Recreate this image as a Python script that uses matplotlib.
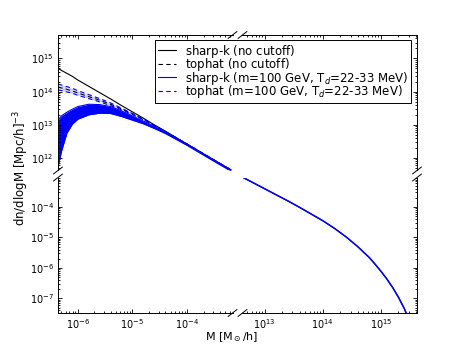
import numpy as np
import matplotlib
matplotlib.use("Agg")
from matplotlib import pyplot as plt

# low-mass window (log10 M, log10 dn/dlogM)
logm_lo = [-6.36, -6.3, -6.2, -6.1, -6.0, -5.8, -5.6, -5.4, -5.2, -5.0, -4.8, -4.6, -4.4, -4.0, -3.6, -3.1]
sharpk_nocut = [14.70, 14.64, 14.55, 14.46, 14.35, 14.16, 13.97, 13.78, 13.58, 13.39, 13.20, 13.00, 12.81, 12.42, 12.03, 11.55]
tophat_nocut = [14.14, 14.11, 14.07, 14.02, 13.96, 13.85, 13.74, 13.62, 13.48, 13.33, 13.16, 12.98, 12.80, 12.42, 12.03, 11.55]
tophat_cut_hi = [14.23, 14.20, 14.15, 14.10, 14.03, 13.91, 13.79, 13.66, 13.50, 13.34, 13.17, 12.98, 12.80, 12.42, 12.03, 11.55]
tophat_cut_lo = [14.05, 14.03, 13.99, 13.95, 13.89, 13.79, 13.69, 13.58, 13.45, 13.31, 13.15, 12.97, 12.80, 12.42, 12.03, 11.55]
sharpk_cut_hi = [13.15, 13.27, 13.38, 13.47, 13.55, 13.62, 13.61, 13.55, 13.42, 13.27, 13.11, 12.95, 12.78, 12.41, 12.02, 11.54]
sharpk_cut_lo = [11.75, 12.20, 12.75, 13.02, 13.17, 13.30, 13.35, 13.34, 13.25, 13.14, 13.03, 12.89, 12.74, 12.38, 11.99, 11.51]

# high-mass window
logm_hi = [12.6, 12.8, 13.0, 13.2, 13.4, 13.6, 13.8, 14.0, 14.2, 14.4, 14.6, 14.8, 14.9, 15.0, 15.1, 15.2, 15.3, 15.4, 15.5]
hmf_hi = [-3.00, -3.20, -3.40, -3.60, -3.80, -4.01, -4.23, -4.45, -4.70, -4.98, -5.30, -5.66, -5.88, -6.11, -6.36, -6.64, -6.96, -7.33, -7.78]

# all labels go through mathtext so the legend rows get equal heights
labels = [r"$\mathregular{s}$harp-k (no cutoff)", r"$\mathregular{t}$ophat (no cutoff)",
          "sharp-k (m=100 GeV, T$_d$=22-33 MeV)", "tophat (m=100 GeV, T$_d$=22-33 MeV)"]

plt.rcParams['font.family'] = ['DejaVu Sans']

fig, axes = plt.subplots(2, 2, figsize=(4.63, 3.48), dpi=100, sharex='col', sharey='row')
fig.subplots_adjust(left=58/463, right=417/463, top=1-35/348, bottom=1-313/348,
                    wspace=0.057, hspace=0.052)
ax_tl, ax_tr = axes[0]
ax_bl, ax_br = axes[1]

m_lo = np.power(10.0, logm_lo)
m_hi = np.power(10.0, logm_hi)
p = lambda v: np.power(10.0, v)

ax_tl.fill_between(m_lo, p(tophat_cut_lo), p(tophat_cut_hi), color='b', alpha=0.18, lw=0)
ax_tl.fill_between(m_lo, p(sharpk_cut_lo), p(sharpk_cut_hi), color='b', lw=0)
h1, = ax_tl.plot(m_lo, p(sharpk_nocut), 'k-', lw=0.8)
h2, = ax_tl.plot(m_lo, p(tophat_nocut), 'k--', lw=0.8, dashes=(4, 3))
h3, = ax_tl.plot(m_lo, p(sharpk_cut_hi), 'b-', lw=0.8)
ax_tl.plot(m_lo, p(sharpk_cut_lo), 'b-', lw=0.8)
h4, = ax_tl.plot(m_lo, p(tophat_cut_hi), 'b--', lw=0.8, dashes=(4, 3))
ax_tl.plot(m_lo, p(tophat_cut_lo), 'b--', lw=0.8, dashes=(4, 3))

ax_br.plot(m_hi, p(hmf_hi), 'k-', lw=0.8)
ax_br.plot(m_hi, p(hmf_hi), 'b-', lw=1.1)

for ax in axes.flat:
    ax.set_xscale('log')
    ax.set_yscale('log')
    ax.tick_params(which='both', direction='in', labelsize=7, width=0.6, pad=3)
    ax.tick_params(which='major', length=2.8)
    ax.tick_params(which='minor', length=1.4)
    for s in ax.spines.values():
        s.set_linewidth(0.7)

ax_tl.set_xlim(4.33e-7, 6.8e-4)
ax_tr.set_xlim(4.16e12, 4.17e15)
ax_tl.set_ylim(4.2e11, 5.1e15)
ax_bl.set_ylim(3.3e-8, 9.3e-4)

ax_tl.spines['right'].set_visible(False)
ax_tl.spines['bottom'].set_visible(False)
ax_tr.spines['left'].set_visible(False)
ax_tr.spines['bottom'].set_visible(False)
ax_bl.spines['top'].set_visible(False)
ax_bl.spines['right'].set_visible(False)
ax_br.spines['top'].set_visible(False)
ax_br.spines['left'].set_visible(False)

ax_tl.tick_params(which='both', top=True, bottom=False, left=True, right=False,
                  labelbottom=False, labelleft=True)
ax_tr.tick_params(which='both', top=True, bottom=False, left=False, right=True,
                  labelbottom=False, labelleft=False)
ax_bl.tick_params(which='both', top=False, bottom=True, left=True, right=False,
                  labelbottom=True, labelleft=True)
ax_br.tick_params(which='both', top=False, bottom=True, left=False, right=True,
                  labelbottom=True, labelleft=False)

d = 0.025
def brk(ax, x, y):
    ax.plot([x - d, x + d], [y - d, y + d], transform=ax.transAxes,
            color='k', lw=0.7, clip_on=False)

brk(ax_tl, 1, 1); brk(ax_tl, 0, 0)
brk(ax_tr, 0, 1); brk(ax_tr, 1, 0)
brk(ax_bl, 0, 1); brk(ax_bl, 1, 0)
brk(ax_br, 0, 0); brk(ax_br, 1, 1)

leg = fig.legend([h1, h2, h3, h4], labels, loc='upper right',
                 bbox_to_anchor=(411/463, 1-40/348), bbox_transform=fig.transFigure,
                 borderaxespad=0, fontsize=8.5, labelspacing=-0.3, handlelength=1.5,
                 handletextpad=0.8, borderpad=0.22, fancybox=False, framealpha=1)
leg.get_frame().set_edgecolor('k')
leg.get_frame().set_linewidth(0.7)

fig.text(232/463, 1-337/348, "M [M$_\\odot$/h]", ha='center', va='center', fontsize=8)
fig.text(21/463, 1-168/348, "dn/dlogM [Mpc/h]$^{-3}$", ha='center', va='center',
         rotation=90, fontsize=8.5)

fig.savefig("out.png", dpi=100)
